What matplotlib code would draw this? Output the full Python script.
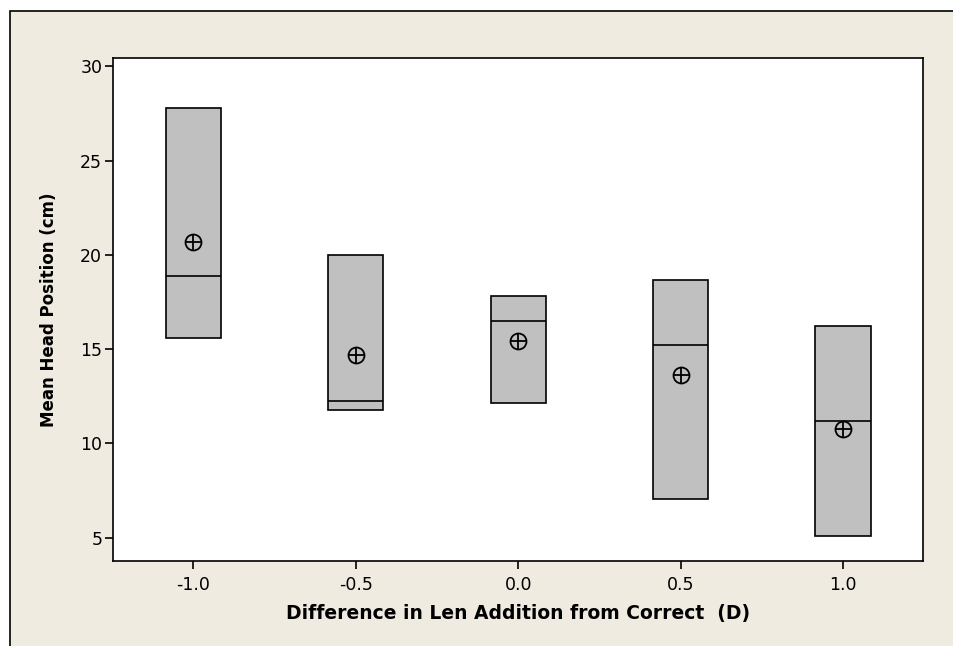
import matplotlib
matplotlib.use("Agg")
import matplotlib.pyplot as plt
from matplotlib.patches import Rectangle

# Data
positions = [-1.0, -0.5, 0.0, 0.5, 1.0]
tick_labels = ["-1.0", "-0.5", "0.0", "0.5", "1.0"]
box_low = [15.6, 11.8, 12.16, 7.04, 5.09]
box_high = [27.79, 20.0, 17.81, 18.68, 16.21]
medians = [18.87, 12.25, 16.49, 15.23, 11.19]
means = [20.67, 14.69, 15.46, 13.61, 10.76]
yticks = [5, 10, 15, 20, 25, 30]

BG = "#EFEBE1"
W, H = 954, 646
fig = plt.figure(figsize=(W / 100, H / 100), dpi=100, facecolor="white")

# outer beige panel with frame on top and left
fig.patches.append(Rectangle((10.5 / W, -0.05), 1.2, (1 - 11.5 / H) + 0.05,
                             transform=fig.transFigure, facecolor=BG,
                             edgecolor="black", linewidth=1.2, zorder=-10))

ax = fig.add_axes([113.3 / W, 1 - 560.7 / H, (922.7 - 113.3) / W, (560.7 - 58.3) / H])
ax.set_zorder(5)
ax.set_facecolor("white")

stats = []
for lo, hi, md, mn in zip(box_low, box_high, medians, means):
    stats.append(dict(q1=lo, q3=hi, med=md, mean=mn, whislo=lo, whishi=hi, fliers=[]))

ax.bxp(stats, positions=positions, widths=0.17, patch_artist=True,
       showcaps=False, showmeans=False, showfliers=False,
       boxprops=dict(facecolor="#C0C0C0", edgecolor="black", linewidth=1.2),
       medianprops=dict(color="black", linewidth=1.2),
       whiskerprops=dict(color="black", linewidth=1.2))

ax.plot(positions, means, linestyle="none", marker="o", markersize=11.5,
        markerfacecolor="none", markeredgecolor="black", markeredgewidth=1.3, zorder=5)
ax.plot(positions, means, linestyle="none", marker="+", markersize=11.5,
        markeredgecolor="black", markeredgewidth=1.3, zorder=5)

ax.set_xlim(-1.246, 1.245)
ax.set_ylim(3.78, 30.43)
ax.set_xticks(positions)
ax.set_xticklabels(tick_labels)
ax.set_yticks(yticks)

for s in ax.spines.values():
    s.set_linewidth(1.2)
    s.set_color("black")

ax.tick_params(axis="both", direction="out", length=6, width=1.2, labelsize=12.5,
               colors="black")
ax.tick_params(axis="x", pad=5)
ax.tick_params(axis="y", pad=2)

ax.set_xlabel("Difference in Len Addition from Correct  (D)", fontsize=13.5,
              fontweight="bold", labelpad=7)
ax.set_ylabel("Mean Head Position (cm)", fontsize=12, fontweight="bold", labelpad=16)

fig.savefig("out.png", dpi=100, facecolor=fig.get_facecolor())
